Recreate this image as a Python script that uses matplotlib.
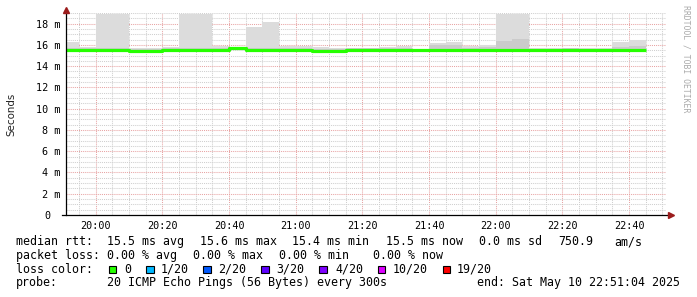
import matplotlib
matplotlib.use('Agg')
import matplotlib.pyplot as plt
import numpy as np
from matplotlib.patches import Rectangle
from matplotlib.transforms import ScaledTranslation

# time axis in minutes after 19:00, graph runs 19:51:04 -> 22:51:04
t_start = 51 + 4 / 60
t_end = t_start + 180
# 5 minute bins, first one is partial (starts at graph start)
bin_edges = [t_start] + list(range(55, 230, 5))

# median rtt per bin (ms)
median_rtt = [15.55, 15.55, 15.55, 15.55, 15.45, 15.45, 15.55, 15.55, 15.55, 15.55,
              15.68, 15.55, 15.55, 15.55, 15.55, 15.45, 15.45, 15.55, 15.55, 15.55,
              15.55, 15.55, 15.55, 15.55, 15.55, 15.55, 15.55, 15.55, 15.55, 15.55,
              15.55, 15.55, 15.55, 15.55, 15.55]
# top of the smoke (slowest ping) per bin (ms)
smoke_top = [16.3, 15.8, 18.9, 18.9, 15.75, 15.75, 15.8, 18.9, 18.9, 15.9,
             15.8, 17.7, 18.15, 15.85, 15.85, 15.8, 15.75, 15.75, 15.75, 15.8,
             15.9, 15.65, 16.2, 16.25, 15.85, 15.95, 18.9, 18.9, 15.7, 15.7,
             15.75, 15.7, 15.7, 16.3, 16.5]
# darker inner smoke per bin (ms)
smoke_mid = [15.75, 15.7, 15.75, 15.75, 15.65, 15.65, 15.7, 15.75, 15.75, 15.75,
             15.75, 15.75, 15.75, 15.7, 15.7, 15.65, 15.65, 15.7, 15.7, 15.7,
             15.75, 15.6, 15.95, 16.0, 15.75, 15.8, 16.4, 16.55, 15.65, 15.65,
             15.7, 15.65, 15.65, 15.8, 15.85]

xtick_minutes = [60, 80, 100, 120, 140, 160, 180, 200, 220]
xtick_labels = ['20:00', '20:20', '20:40', '21:00', '21:20', '21:40', '22:00', '22:20', '22:40']
ytick_ms = [0, 2, 4, 6, 8, 10, 12, 14, 16, 18]
ytick_labels = ['0'] + ['%d m' % v for v in ytick_ms[1:]]

rtt_stats = ['15.5 ms avg', '15.6 ms max', '15.4 ms min', '15.5 ms now', '0.0 ms sd', '750.9', 'am/s']
loss_stats = ['0.00 % avg', '0.00 % max', '0.00 % min', '0.00 % now']
loss_labels = ['0', '1/20', '2/20', '3/20', '4/20', '10/20', '19/20']
loss_colors = ['#26ff00', '#00b8ff', '#0059ff', '#5e00ff', '#7e00ff', '#dd00ff', '#ff0000']

W, H = 697, 297
fig = plt.figure(figsize=(W / 100, H / 100), dpi=100)
fig.patch.set_facecolor('white')
ax = fig.add_axes([66 / W, 82 / H, 600 / W, 202 / H])
ax.set_xlim(t_start, t_end)
ax.set_ylim(0, 19)

starts = np.array(bin_edges[:-1])
widths = np.diff(bin_edges)
low = np.array(median_rtt) - 0.1

# grid
ax.set_xticks(xtick_minutes)
ax.set_xticklabels(xtick_labels)
ax.set_xticks(np.arange(55, 231, 5), minor=True)
ax.set_yticks(ytick_ms)
ax.set_yticklabels(ytick_labels)
ax.set_yticks(np.arange(0.5, 19.01, 0.5), minor=True)
ax.grid(which='minor', color='#cfcfcf', linestyle=(0, (1, 1)), linewidth=0.75)
ax.grid(which='major', color='#e8a4a4', linestyle=(0, (1, 1)), linewidth=0.75)
ax.set_axisbelow(True)

# smoke
ax.bar(starts, np.array(smoke_top) - low, bottom=low, width=widths, align='edge',
       color='#dcdcdc', linewidth=0, zorder=2)
ax.bar(starts, np.array(smoke_mid) - low, bottom=low, width=widths, align='edge',
       color='#cbcbcb', linewidth=0, zorder=2)

# median line
ax.step(bin_edges, median_rtt + [median_rtt[-1]], where='post', color='#26ff00',
        linewidth=2.3, zorder=3, solid_capstyle='butt')

for s in ax.spines.values():
    s.set_visible(False)
ax.tick_params(which='both', length=0)
ax.tick_params(axis='y', pad=4.3)
ax.tick_params(axis='x', pad=4.5)
for lab in ax.get_xticklabels() + ax.get_yticklabels():
    lab.set_fontfamily('DejaVu Sans Mono')
    lab.set_fontsize(7.3)
ax.get_yticklabels()[0].set_transform(ax.get_yticklabels()[0].get_transform()
                                      + ScaledTranslation(-0.1, 0, fig.dpi_scale_trans))

# axes lines with arrows
ax.plot([-4 / 600, 1 + 5 / 600], [0, 0], transform=ax.transAxes, color='black',
        linewidth=0.9, clip_on=False, zorder=5)
ax.plot([0, 0], [0, 1 + 2 / 202], transform=ax.transAxes, color='black',
        linewidth=0.9, clip_on=False, zorder=5)
ax.plot([1 + 5 / 600], [0], marker='>', markersize=4, color='#9b1c1c',
        transform=ax.transAxes, clip_on=False, zorder=6)
ax.plot([0], [1 + 3.5 / 202], marker='^', markersize=4, color='#9b1c1c',
        transform=ax.transAxes, clip_on=False, zorder=6)

fig.text(11 / W, 1 - 114 / H, 'Seconds', rotation=90, ha='center', va='center',
         fontsize=7.4, family='DejaVu Sans', color='#222222')
fig.text(686 / W, 1 - 5 / H, 'RRDTOOL / TOBI OETIKER', rotation=270, ha='center', va='top',
         fontsize=5.9, family='DejaVu Sans Mono', color='#aaaaaa')

mono = dict(family='DejaVu Sans Mono', fontsize=8.4, color='black', va='baseline')


def put(x, y, s, ha='left'):
    fig.text(x / W, 1 - y / H, s, ha=ha, **mono)


# legend line 1
put(16, 245.2, 'median rtt:')
for x, s in zip([107.3, 200, 292, 386, 479.3, 558.3, 614], rtt_stats):
    put(x, 245.2, s)
# line 2
put(16, 258.9, 'packet loss:')
for x, s in zip([107.3, 193.3, 279.3, 372.7], loss_stats):
    put(x, 258.9, s)
# line 3
put(16, 272.6, 'loss color:')
for xs, xt, s, c in zip([108.7, 146, 203.3, 261.3, 319.3, 377.7, 442.7],
                        [124, 160.7, 218.3, 276.7, 335, 392.7, 456.7],
                        loss_labels, loss_colors):
    fig.patches.append(Rectangle((xs / W, 1 - 273 / H), 7.5 / W, 7.5 / H,
                                 transform=fig.transFigure, facecolor=c,
                                 edgecolor='black', linewidth=0.8))
    put(xt, 272.6, s)
# line 4
put(16, 286.3, 'probe:')
put(107.3, 286.3, '20 ICMP Echo Pings (56 Bytes) every 300s')
put(680, 286.3, 'end: Sat May 10 22:51:04 2025', ha='right')

fig.savefig('out.png', dpi=100, facecolor='white')
